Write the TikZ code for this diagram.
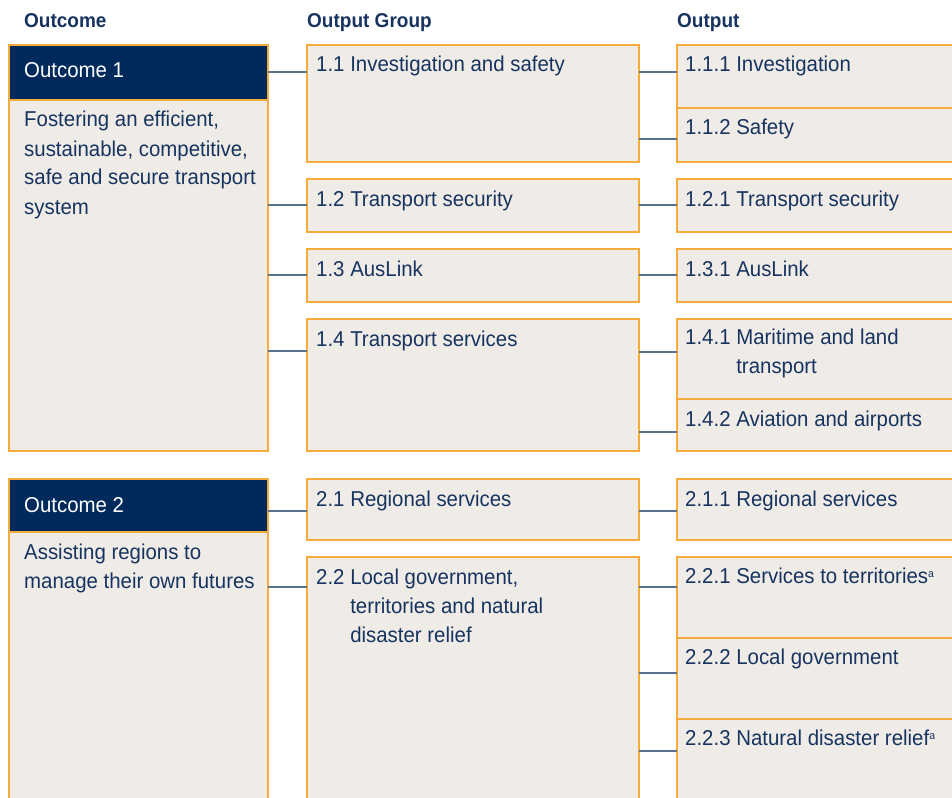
\documentclass[tikz,border=0pt]{standalone}
\usepackage{fontspec}
\setmainfont{Liberation Sans}[FakeStretch=0.95]
\usepackage{tikz}
\usetikzlibrary{positioning}
\definecolor{marinho}{HTML}{002A5C}
\definecolor{tinta}{HTML}{17335F}
\definecolor{areia}{HTML}{EFECE7}
\definecolor{laranja}{HTML}{F6AC3A}
\definecolor{ardosia}{HTML}{5B6F8F}
\newcommand{\notaa}{\raisebox{6pt}{\fontsize{11}{11}\selectfont a}}

\begin{document}
\begin{tikzpicture}[
    x=1pt, y=-1pt,
    caixa/.style={
        rectangle, draw=laranja, fill=areia, line width=1.2pt,
        inner sep=0pt, outer sep=0pt, anchor=north west
    },
    resultado/.style={caixa, minimum width=259pt},
    cabeca/.style={resultado, fill=marinho},
    grupo/.style={caixa, minimum width=332pt},
    saida/.style={caixa, minimum width=300pt},
    texto/.style={anchor=base west, inner sep=0pt, text=tinta,
        font=\fontsize{21.5}{29}\selectfont},
    titulo/.style={texto, font=\fontsize{20}{24}\selectfont\bfseries},
    ligacao/.style={draw=ardosia, line width=1.2pt}
]
\clip (0,0) rectangle (952,797);
\useasboundingbox (0,0) rectangle (952,797);

% column headings
\node[titulo] (hres) at (24,28) {Outcome};
\node[titulo] (hgrp) at (307,28) {Output Group};
\node[titulo] (hsai) at (677,28) {Output};

% outcome column
\node[cabeca, minimum height=55pt] (o1) at (9,45) {};
\node[resultado, minimum height=351pt, below=0pt of o1.south west, anchor=north west] (ob1) {};
\node[cabeca, minimum height=53pt] (o2) at (9,479) {};
\node[resultado, minimum height=300pt, below=0pt of o2.south west, anchor=north west] (ob2) {};

% output groups
\node[grupo, minimum height=117pt] (g11) at (307,45) {};
\node[grupo, minimum height=53pt, below=17pt of g11.south west, anchor=north west] (g12) {};
\node[grupo, minimum height=53pt, below=17pt of g12.south west, anchor=north west] (g13) {};
\node[grupo, minimum height=132pt, below=17pt of g13.south west, anchor=north west] (g14) {};
\node[grupo, minimum height=61pt, below=28pt of g14.south west, anchor=north west] (g21) {};
\node[grupo, minimum height=300pt, below=17pt of g21.south west, anchor=north west] (g22) {};

% outputs
\node[saida, minimum height=63pt, right=38pt of g11.north east, anchor=north west] (p111) {};
\node[saida, minimum height=54pt, below=0pt of p111.south west, anchor=north west] (p112) {};
\node[saida, minimum height=53pt, right=38pt of g12.north east, anchor=north west] (p121) {};
\node[saida, minimum height=53pt, right=38pt of g13.north east, anchor=north west] (p131) {};
\node[saida, minimum height=80pt, right=38pt of g14.north east, anchor=north west] (p141) {};
\node[saida, minimum height=52pt, below=0pt of p141.south west, anchor=north west] (p142) {};
\node[saida, minimum height=61pt, right=38pt of g21.north east, anchor=north west] (p211) {};
\node[saida, minimum height=81pt, right=38pt of g22.north east, anchor=north west] (p221) {};
\node[saida, minimum height=81pt, below=0pt of p221.south west, anchor=north west] (p222) {};
\node[saida, minimum height=100pt, below=0pt of p222.south west, anchor=north west] (p223) {};

% texts
\node[texto, text=white] (to1) at ([xshift=15pt, yshift=-33pt]o1.north west) {Outcome 1};
\node[texto] (tob1) at ([xshift=15pt, yshift=-27pt]ob1.north west)
    {\begin{tabular}[t]{@{}l@{}}Fostering an efficient,\\ sustainable, competitive,\\ safe and secure transport\\ system\end{tabular}};
\node[texto, text=white] (to2) at ([xshift=15pt, yshift=-33pt]o2.north west) {Outcome 2};
\node[texto] (tob2) at ([xshift=15pt, yshift=-27pt]ob2.north west)
    {\begin{tabular}[t]{@{}l@{}}Assisting regions to\\ manage their own futures\end{tabular}};

\node[texto] (tg11) at ([xshift=9pt, yshift=-27pt]g11.north west) {1.1 Investigation and safety};
\node[texto] (tg12) at ([xshift=9pt, yshift=-27pt]g12.north west) {1.2 Transport security};
\node[texto] (tg13) at ([xshift=9pt, yshift=-27pt]g13.north west) {1.3 AusLink};
\node[texto] (tg14) at ([xshift=9pt, yshift=-27pt]g14.north west) {1.4 Transport services};
\node[texto] (tg21) at ([xshift=9pt, yshift=-27pt]g21.north west) {2.1 Regional services};
\node[texto] (tg22) at ([xshift=9pt, yshift=-27pt]g22.north west)
    {\begin{tabular}[t]{@{}l@{ }l@{}}2.2 & Local government,\\ & territories and natural\\ & disaster relief\end{tabular}};

\node[texto] (tp111) at ([xshift=8pt, yshift=-27pt]p111.north west) {1.1.1 Investigation};
\node[texto] (tp112) at ([xshift=8pt, yshift=-27pt]p112.north west) {1.1.2 Safety};
\node[texto] (tp121) at ([xshift=8pt, yshift=-27pt]p121.north west) {1.2.1 Transport security};
\node[texto] (tp131) at ([xshift=8pt, yshift=-27pt]p131.north west) {1.3.1 AusLink};
\node[texto] (tp141) at ([xshift=8pt, yshift=-25pt]p141.north west)
    {\begin{tabular}[t]{@{}l@{ }l@{}}1.4.1 & Maritime and land\\ & transport\end{tabular}};
\node[texto] (tp142) at ([xshift=8pt, yshift=-27pt]p142.north west) {1.4.2 Aviation and airports};
\node[texto] (tp211) at ([xshift=8pt, yshift=-27pt]p211.north west) {2.1.1 Regional services};
\node[texto] (tp221) at ([xshift=8pt, yshift=-26pt]p221.north west) {2.2.1 Services to territories\notaa};
\node[texto] (tp222) at ([xshift=8pt, yshift=-26pt]p222.north west) {2.2.2 Local government};
\node[texto] (tp223) at ([xshift=8pt, yshift=-26pt]p223.north west) {2.2.3 Natural disaster relief\notaa};

% outcome to group links
\draw[ligacao] ([yshift=-27pt]g11.north west) -- ([yshift=-27pt]g11.north west -| ob1.east);
\draw[ligacao] ([yshift=-26pt]g12.north west) -- ([yshift=-26pt]g12.north west -| ob1.east);
\draw[ligacao] ([yshift=-26pt]g13.north west) -- ([yshift=-26pt]g13.north west -| ob1.east);
\draw[ligacao] ([yshift=-32pt]g14.north west) -- ([yshift=-32pt]g14.north west -| ob1.east);
\draw[ligacao] ([yshift=-32pt]g21.north west) -- ([yshift=-32pt]g21.north west -| o2.east);
\draw[ligacao] ([yshift=-30pt]g22.north west) -- ([yshift=-30pt]g22.north west -| ob2.east);

% group to output links
\draw[ligacao] ([yshift=-27pt]p111.north west) -- ([yshift=-27pt]p111.north west -| g11.east);
\draw[ligacao] ([yshift=-31pt]p112.north west) -- ([yshift=-31pt]p112.north west -| g11.east);
\draw[ligacao] ([yshift=-26pt]p121.north west) -- ([yshift=-26pt]p121.north west -| g12.east);
\draw[ligacao] ([yshift=-26pt]p131.north west) -- ([yshift=-26pt]p131.north west -| g13.east);
\draw[ligacao] ([yshift=-33pt]p141.north west) -- ([yshift=-33pt]p141.north west -| g14.east);
\draw[ligacao] ([yshift=-33pt]p142.north west) -- ([yshift=-33pt]p142.north west -| g14.east);
\draw[ligacao] ([yshift=-32pt]p211.north west) -- ([yshift=-32pt]p211.north west -| g21.east);
\draw[ligacao] ([yshift=-30pt]p221.north west) -- ([yshift=-30pt]p221.north west -| g22.east);
\draw[ligacao] ([yshift=-35pt]p222.north west) -- ([yshift=-35pt]p222.north west -| g22.east);
\draw[ligacao] ([yshift=-32pt]p223.north west) -- ([yshift=-32pt]p223.north west -| g22.east);
\end{tikzpicture}
\end{document}
